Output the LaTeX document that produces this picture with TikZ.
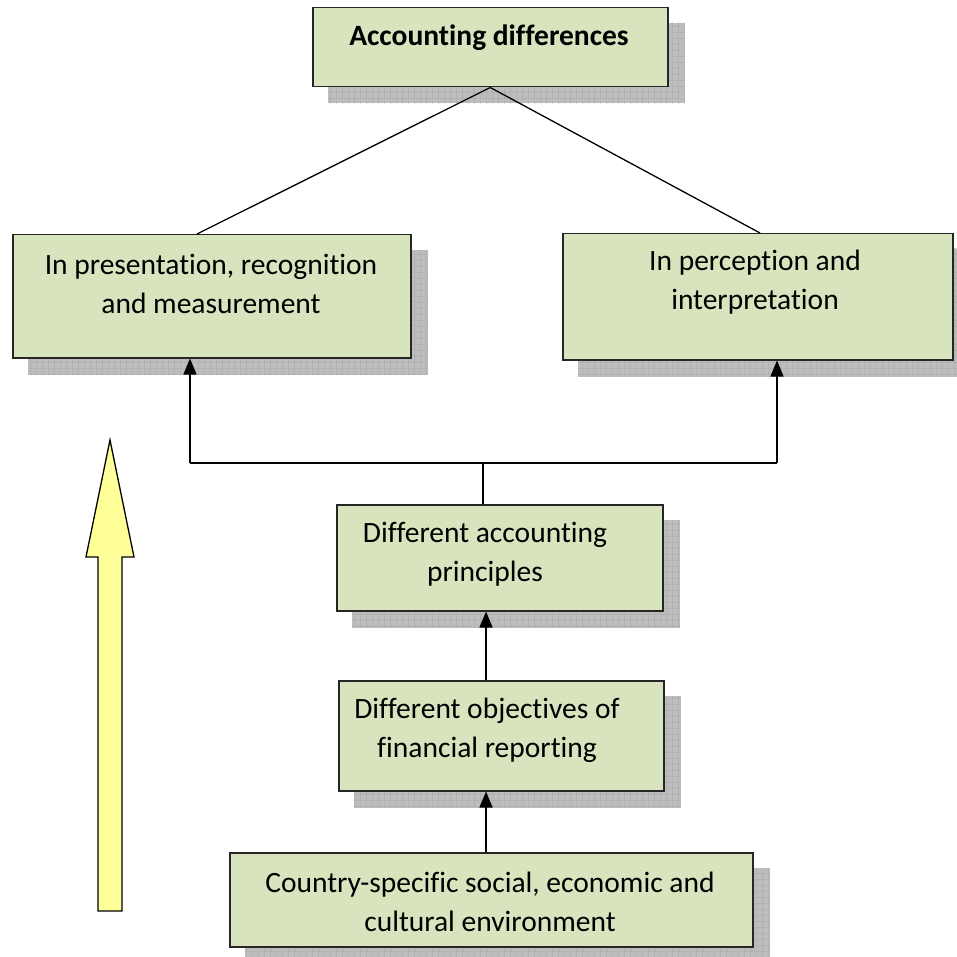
\documentclass[tikz,border=0pt]{standalone}
\usepackage{fontspec}
\setmainfont[Ligatures={NoCommon}]{Carlito}
\usetikzlibrary{arrows.meta,backgrounds,patterns.meta}
\pgfdeclarepattern{name=shgrid, type=uncolored,
  bottom left={\pgfpoint{0pt}{0pt}}, top right={\pgfpoint{6pt}{6pt}},
  tile size={\pgfpoint{6pt}{6pt}},
  code={\pgfsetlinewidth{0.9pt}
    \pgfpathmoveto{\pgfpoint{0pt}{0pt}}\pgfpathlineto{\pgfpoint{6pt}{0pt}}
    \pgfpathmoveto{\pgfpoint{0pt}{0pt}}\pgfpathlineto{\pgfpoint{0pt}{6pt}}
    \pgfusepath{stroke}}}
\definecolor{boxgreen}{HTML}{D7E4BD}
\definecolor{arrowyellow}{HTML}{FFFF99}
\tikzset{
  box/.style={draw=black!85, line width=1.5pt, fill=boxgreen, rectangle, anchor=north west, inner sep=0pt},
  txt/.style={align=center, font=\fontsize{29.5}{39}\selectfont, inner sep=0pt},
  conn/.style={line width=1.3pt, black},
  arr/.style={conn, -{Triangle[length=16pt,width=13pt]}},
  shadowbox/.style={fill=gray!52, postaction={pattern=shgrid, pattern color=gray!75}},
}
\begin{document}
\begin{tikzpicture}[x=1pt,y=-1pt]
\useasboundingbox (0,0) rectangle (956,957);
% boxes
\node[box, minimum width=355pt, minimum height=79pt] (top) at (312,7) {};
\node[box, minimum width=398pt, minimum height=123pt] (left) at (12,234) {};
\node[box, minimum width=390pt, minimum height=126pt] (right) at (562,233) {};
\node[box, minimum width=326pt, minimum height=106pt] (prin) at (336,504) {};
\node[box, minimum width=325pt, minimum height=110pt] (obj) at (338,680) {};
\node[box, minimum width=523pt, minimum height=94pt] (env) at (229,852) {};
% shadows
\begin{scope}[on background layer]
\foreach \n in {top,left,right,prin,obj,env}{
  \path[shadowbox] ([shift={(16,16)}]\n.north west) rectangle ([shift={(16,16)}]\n.south east);
}
\end{scope}
% texts
\node[txt, font=\fontsize{29.5}{39}\selectfont\bfseries] (ttop) at (489,38) {Accounting differences};
\node[txt] (tleft) at (211,284) {In presentation, recognition\\and measurement};
\node[txt] (tright) at (755,282) {In perception and\\interpretation};
\node[txt] (tprin) at (485,554) {Different accounting\\principles};
\node[txt] (tobj) at (487,730) {Different objectives of\\financial reporting};
\node[txt] (tenv) at (490,902) {Country-specific social, economic and\\cultural environment};
% connectors
\coordinate (tl) at (197,234);
\coordinate (tr) at (760,233);
\draw[conn] (top.south) -- (tl);
\draw[conn] (top.south) -- (tr);
\coordinate (hl) at (190,463);
\coordinate (hr) at (777,463);
\coordinate (hm) at (483,463);
\draw[conn] (hl) -- (hr);
\draw[arr] (hl) -- (hl |- left.south);
\draw[arr] (hr) -- (hr |- right.south);
\draw[conn] (hm) -- (hm |- prin.north);
\draw[arr] (obj.north -| 486,0) -- (prin.south -| 486,0);
\draw[arr] (env.north -| 486,0) -- (obj.south -| 486,0);
% yellow arrow
\draw[line width=1.3pt, fill=arrowyellow, line join=miter]
  (110,440) -- (134,557) -- (122,557) -- (122,911) -- (98,911) -- (98,557) -- (86,557) -- cycle;
\end{tikzpicture}
\end{document}
